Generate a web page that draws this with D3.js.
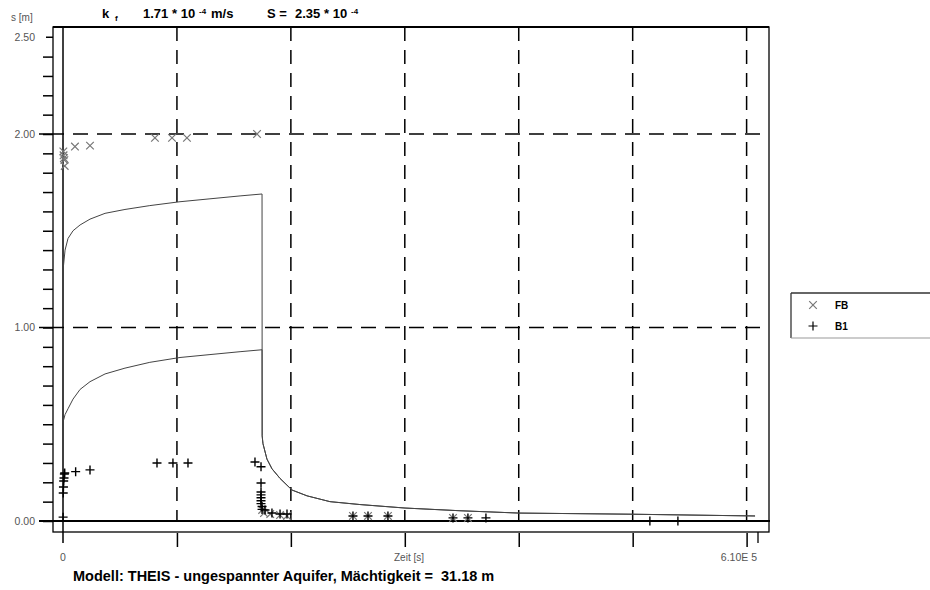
<!DOCTYPE html>
<html>
<head>
<meta charset="utf-8">
<script src="https://cdn.jsdelivr.net/npm/d3@7"></script>
<style>
  body { margin: 0; background: #fff; }
  svg { display: block; font-family: "Liberation Sans", Arial, sans-serif; }
  text { white-space: pre; }
</style>
</head>
<body>
<svg id="chart" width="930" height="590"></svg>
<script>
// measured points, time in s, drawdown in m
var fbTime = [300, 500, 800, 1200, 1500, 10500, 23700, 80700, 95700, 108800, 170300,
              174800, 176400, 181900, 190500, 196600, 254500, 267700, 285200, 342300, 355400];
var fbDraw = [1.91, 1.89, 1.875, 1.865, 1.835, 1.935, 1.94, 1.98, 1.98, 1.98, 2.00,
              0.057, 0.041, 0.036, 0.031, 0.026, 0.026, 0.026, 0.026, 0.016, 0.016];

var b1Time = [100, 200, 400, 600, 900, 1200, 1500, 11100, 23700, 82500, 96500, 109700,
              168500, 173800, 173800, 173800, 173800, 173800, 173800, 173800, 174700, 174700,
              177300, 183400, 190500, 196600, 254500, 267700, 285200, 342300, 355400, 371200,
              515100, 539700];
var b1Draw = [0.02, 0.145, 0.176, 0.207, 0.222, 0.243, 0.248, 0.255, 0.264, 0.30, 0.30, 0.30,
              0.305, 0.28, 0.196, 0.15, 0.135, 0.12, 0.105, 0.09, 0.075, 0.06,
              0.057, 0.041, 0.036, 0.036, 0.026, 0.026, 0.026, 0.016, 0.016, 0.016,
              0.0, 0.0];

// Theis model curves (pumping phase)
var modelTime = [440, 1800, 4400, 8800, 15000, 23700, 36900, 54400, 76200, 102700, 129000, 155400, 174700];
var fbModel   = [1.32, 1.40, 1.46, 1.50, 1.53, 1.56, 1.59, 1.61, 1.63, 1.65, 1.665, 1.68, 1.69];
var b1Model   = [0.52, 0.55, 0.58, 0.63, 0.68, 0.72, 0.76, 0.79, 0.82, 0.845, 0.86, 0.875, 0.885];

// recovery after pump stop
var recTime = [174800, 175500, 179000, 183400, 190500, 201000, 214200, 234300, 260700, 300200, 348400, 400200, 500300, 607400];
var recDraw = [0.44, 0.40, 0.32, 0.27, 0.22, 0.16, 0.13, 0.10, 0.085, 0.067, 0.053, 0.041, 0.035, 0.026];

var gridTimes = [100000, 200000, 300000, 400000, 500000, 600000];
var gridDraw = [1, 2];
var yLabels = ["0.00", "1.00", "2.00", "2.50"];
var yLabelValues = [0, 1, 2, 2.5];
var seriesNames = ["FB", "B1"];

var svg = d3.select("#chart");

var x = d3.scaleLinear().domain([0, 610000]).range([63, 758]);
var y = d3.scaleLinear().domain([0, 2.5]).range([521, 37.25]);

var frame = { left: 53, right: 769, top: 27, bottom: 532 };

var crossPath = "M-3.8,-3.8L3.8,3.8M3.8,-3.8L-3.8,3.8";
var plusPath = "M-4.5,0H4.5M0,-4.5V4.5";

// frame
svg.append("rect")
  .attr("x", frame.left).attr("y", frame.top)
  .attr("width", frame.right - frame.left)
  .attr("height", frame.bottom - frame.top)
  .attr("fill", "none").attr("stroke", "#000").attr("stroke-width", 1.3);
svg.append("line")
  .attr("x1", frame.left).attr("x2", frame.right)
  .attr("y1", frame.top).attr("y2", frame.top)
  .attr("stroke", "#000").attr("stroke-width", 2);

// minor y ticks outside the frame
var yAxis = d3.axisLeft(y)
  .tickValues(d3.range(0, 25).map(d => d / 10))
  .tickSize(10).tickSizeOuter(0).tickFormat("");
svg.append("g")
  .attr("transform", `translate(${frame.left},0)`)
  .call(yAxis)
  .call(g => g.select(".domain").remove())
  .call(g => g.selectAll(".tick line").attr("stroke", "#000").attr("stroke-width", 1.5));
svg.append("line")
  .attr("x1", 46).attr("x2", frame.left)
  .attr("y1", y(2.5)).attr("y2", y(2.5))
  .attr("stroke", "#000").attr("stroke-width", 1.5);

// horizontal grid lines
svg.selectAll(".hgrid")
  .data(gridDraw).enter()
  .append("line")
  .attr("x1", 63).attr("x2", frame.right)
  .attr("y1", d => y(d)).attr("y2", d => y(d))
  .attr("stroke", "#000").attr("stroke-width", 1.5)
  .attr("stroke-dasharray", "15,9")
  .attr("stroke-dashoffset", -10);
svg.selectAll(".hmajor")
  .data(gridDraw).enter()
  .append("line")
  .attr("x1", 39).attr("x2", 63)
  .attr("y1", d => y(d)).attr("y2", d => y(d))
  .attr("stroke", "#000").attr("stroke-width", 1.5);

// vertical grid lines and ticks below
svg.selectAll(".vgrid")
  .data(gridTimes).enter()
  .append("line")
  .attr("x1", d => x(d)).attr("x2", d => x(d))
  .attr("y1", frame.top).attr("y2", y(0))
  .attr("stroke", "#000").attr("stroke-width", 1.5)
  .attr("stroke-dasharray", "14,9");
var xAxis = d3.axisBottom(x).tickValues(gridTimes).tickSize(14).tickSizeOuter(0).tickFormat("");
svg.append("g")
  .attr("transform", `translate(0,${frame.bottom + 1})`)
  .call(xAxis)
  .call(g => g.select(".domain").remove())
  .call(g => g.selectAll(".tick line").attr("stroke", "#000").attr("stroke-width", 1.5));
svg.append("line")
  .attr("x1", x(610000)).attr("x2", x(610000))
  .attr("y1", frame.bottom).attr("y2", 543)
  .attr("stroke", "#000").attr("stroke-width", 1.3);

// zero line and time axis
svg.append("line")
  .attr("x1", 39).attr("x2", frame.right + 1)
  .attr("y1", y(0)).attr("y2", y(0))
  .attr("stroke", "#000").attr("stroke-width", 2);
svg.append("line")
  .attr("x1", x(0)).attr("x2", x(0))
  .attr("y1", frame.top).attr("y2", 543)
  .attr("stroke", "#000").attr("stroke-width", 1.5);

// y labels
svg.selectAll(".ylab")
  .data(yLabels).enter()
  .append("text")
  .attr("x", 35)
  .attr("y", (d, i) => y(yLabelValues[i]))
  .attr("dy", "0.35em")
  .attr("text-anchor", "end")
  .attr("font-size", 10.5)
  .attr("fill", "#555")
  .text(d => d);

svg.append("text")
  .attr("x", 11).attr("y", 21)
  .attr("font-size", 10).attr("fill", "#555")
  .text("s [m]");

// x labels
svg.append("text").attr("x", x(0)).attr("y", 561)
  .attr("text-anchor", "middle").attr("font-size", 10.5).attr("fill", "#555").text("0");
svg.append("text").attr("x", 409).attr("y", 561)
  .attr("text-anchor", "middle").attr("font-size", 10).attr("fill", "#555").text("Zeit [s]");
svg.append("text").attr("x", 757).attr("y", 561)
  .attr("text-anchor", "end").attr("font-size", 10.5).attr("fill", "#555").text("6.10E 5");

// title parameters
var title = svg.append("text")
  .attr("y", 18).attr("font-size", 13).attr("font-weight", "bold").attr("fill", "#000");
title.append("tspan").attr("x", 102).text("k");
title.append("tspan").attr("x", 115).attr("dy", 3).attr("font-size", 8).text("f");
title.append("tspan").attr("x", 143).attr("dy", -3).text("1.71");
title.append("tspan").attr("x", 172).text("* 10");
title.append("tspan").attr("x", 199).attr("dy", -4).attr("font-size", 8).text("-4");
title.append("tspan").attr("x", 211).attr("dy", 4).text("m/s");
title.append("tspan").attr("x", 267).text("S =");
title.append("tspan").attr("x", 295).text("2.35");
title.append("tspan").attr("x", 324).text("* 10");
title.append("tspan").attr("x", 351).attr("dy", -4).attr("font-size", 8).text("-4");

svg.append("text")
  .attr("x", 73).attr("y", 581)
  .attr("font-size", 14.5).attr("font-weight", "bold")
  .text("Modell: THEIS - ungespannter Aquifer, Mächtigkeit =  31.18 m");

// model curves
var line = d3.line().x(d => x(d[0])).y(d => y(d[1]));
var recovery = recTime.map((t, i) => [t, recDraw[i]]);
var fbCurve = modelTime.map((t, i) => [t, fbModel[i]]).concat(recovery);
var b1Curve = modelTime.map((t, i) => [t, b1Model[i]]).concat(recovery);

svg.selectAll(".model")
  .data([fbCurve, b1Curve]).enter()
  .append("path")
  .attr("d", line)
  .attr("fill", "none")
  .attr("stroke", "#444")
  .attr("stroke-width", 1);

// measured points
svg.append("g")
  .selectAll("path")
  .data(fbTime.map((t, i) => [t, fbDraw[i]]))
  .enter().append("path")
  .attr("d", crossPath)
  .attr("transform", d => `translate(${x(d[0])},${y(d[1])})`)
  .attr("stroke", "#777").attr("stroke-width", 1.2).attr("fill", "none");

svg.append("g")
  .selectAll("path")
  .data(b1Time.map((t, i) => [t, b1Draw[i]]))
  .enter().append("path")
  .attr("d", plusPath)
  .attr("transform", d => `translate(${x(d[0])},${y(d[1])})`)
  .attr("stroke", "#000").attr("stroke-width", 1.4).attr("fill", "none");

// legend
var legend = svg.append("g");
legend.append("line").attr("x1", 791).attr("x2", 930).attr("y1", 293).attr("y2", 293)
  .attr("stroke", "#333").attr("stroke-width", 1.3);
legend.append("line").attr("x1", 791).attr("x2", 791).attr("y1", 293).attr("y2", 338)
  .attr("stroke", "#333").attr("stroke-width", 1.3);
legend.append("line").attr("x1", 791).attr("x2", 930).attr("y1", 338).attr("y2", 338)
  .attr("stroke", "#999").attr("stroke-width", 1);

var rows = legend.selectAll(".row")
  .data(seriesNames).enter()
  .append("g")
  .attr("transform", (d, i) => `translate(0,${305 + i * 21})`);
rows.append("path")
  .attr("transform", "translate(813,0)")
  .attr("d", (d, i) => i === 0 ? crossPath : plusPath)
  .attr("stroke", (d, i) => i === 0 ? "#777" : "#000")
  .attr("stroke-width", 1.2).attr("fill", "none");
rows.append("text")
  .attr("x", 835).attr("dy", "0.35em")
  .attr("font-size", 10).attr("font-weight", "bold")
  .text(d => d);
</script>
</body>
</html>
